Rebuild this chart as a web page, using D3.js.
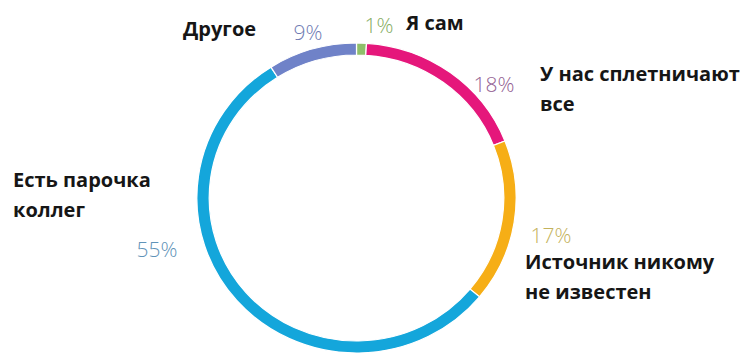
<!DOCTYPE html>
<html>
<head>
<meta charset="utf-8">
<script src="https://cdn.jsdelivr.net/npm/d3@7"></script>
<style>
  html, body { margin: 0; padding: 0; background: #fff; }
  svg { display: block; }
  .name { font-family: "Open Sans", "DejaVu Sans", sans-serif; font-weight: 700; fill: #161616; }
  .pct { font-family: "Open Sans", "Lato", sans-serif; font-weight: 300; }
</style>
</head>
<body>
<svg id="chart" width="750" height="357"></svg>
<script>
// Survey answers: where gossip at work comes from
const categories = ["Я сам", "У нас сплетничают все", "Источник никому не известен", "Есть парочка коллег", "Другое"];
const values = [1, 18, 17, 55, 9];
const sliceColors = ["#8fbf6a", "#e5177b", "#f6ae16", "#14a6db", "#6f82c8"];
const pctColors = ["#86ad62", "#935f93", "#c4b25c", "#5f93b8", "#6f7bb3"];
const nameLines = [["Я сам"], ["У нас сплетничают", "все"], ["Источник никому", "не известен"], ["Есть парочка", "коллег"], ["Другое"]];

const svg = d3.select("#chart");
const cx = 356.5, cy = 198;
const rOuter = 155, rInner = 143;

const pie = d3.pie().sort(null).value(d => d);
const arcs = pie(values);
const arc = d3.arc().innerRadius(rInner).outerRadius(rOuter);

const ring = svg.append("g")
  .attr("transform", `translate(${cx},${cy}) scale(1.03,1)`);

ring.selectAll("path")
  .data(arcs)
  .join("path")
  .attr("d", arc)
  .attr("fill", (d, i) => sliceColors[i])
  .attr("stroke", "#ffffff")
  .attr("stroke-width", 1.2);

// label anchors: percent position and first-line position of the category name
const labelPos = [
  { px: 379, py: 33, nx: 406, ny: 30 },
  { px: 494, py: 92, nx: 540, ny: 81 },
  { px: 551, py: 243, nx: 525, ny: 269 },
  { px: 157, py: 257, nx: 13, ny: 187 },
  { px: 308, py: 40, nx: 183, ny: 36 }
];

const labels = svg.append("g");
arcs.forEach((a, i) => {
  const p = labelPos[i];
  labels.append("text")
    .attr("class", "pct")
    .attr("x", p.px).attr("y", p.py)
    .attr("text-anchor", "middle")
    .attr("font-size", 21)
    .attr("fill", pctColors[i])
    .text(values[i] + "%");
  const t = labels.append("text")
    .attr("class", "name")
    .attr("x", p.nx).attr("y", p.ny)
    .attr("font-size", 20);
  nameLines[i].forEach((line, j) => {
    t.append("tspan").attr("x", p.nx).attr("dy", j === 0 ? 0 : 30).text(line);
  });
});
</script>
</body>
</html>
